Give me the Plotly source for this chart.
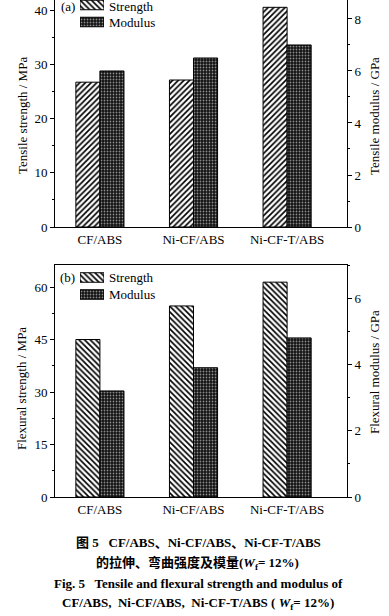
import plotly.graph_objects as go

categories = ["CF/ABS", "Ni-CF/ABS", "Ni-CF-T/ABS"]
tensile_strength = [26.7, 27.1, 40.5]    # MPa
tensile_modulus = [6.0, 6.5, 7.0]        # GPa
flexural_strength = [45.0, 54.6, 61.4]   # MPa
flexural_modulus = [3.2, 3.9, 4.8]       # GPa
legend_items = ["Modulus", "Strength"]
legend_len = [1, 1]

W, H = 389, 616
SERIF = "Liberation Serif, Times New Roman, serif"
CAP = "Liberation Serif, Noto Sans CJK SC, serif"

def px_x(p):
    return p / W

def px_y(p):
    return 1 - p / H

X0, X1 = 55, 347
TOP = (0, 227)
BOT = (265, 497)

bw = 0.257

def strength_style(shape):
    return dict(color="white", line=dict(color="black", width=1),
                pattern=dict(shape=shape, fgcolor="black", bgcolor="white",
                             size=4, solidity=0.42))

mod_style = dict(color="#111111", line=dict(color="black", width=1),
                 pattern=dict(shape=".", fgcolor="#8a8a8a", bgcolor="#111111",
                              size=3, solidity=0.3))

fig = go.Figure()
fig.add_bar(x=categories, y=tensile_strength, xaxis="x", yaxis="y",
            width=bw, offset=-bw, marker=strength_style("/"), showlegend=False)
fig.add_bar(x=categories, y=tensile_modulus, xaxis="x", yaxis="y2",
            width=bw, offset=0, marker=mod_style, showlegend=False)
fig.add_bar(x=categories, y=flexural_strength, xaxis="x2", yaxis="y3",
            width=bw, offset=-bw, marker=strength_style("\\"), showlegend=False)
fig.add_bar(x=categories, y=flexural_modulus, xaxis="x2", yaxis="y4",
            width=bw, offset=0, marker=mod_style, showlegend=False)

# legend patches (drawn on small helper axes)
for xa, ya in [("x3", "y5"), ("x4", "y6")]:
    for i, name in enumerate(legend_items):
        mk = mod_style if name == "Modulus" else strength_style("\\")
        fig.add_bar(x=[legend_len[i]], y=[name], orientation="h", xaxis=xa, yaxis=ya,
                    width=0.56, marker=mk, showlegend=False)

xrange = [-0.48, 2.64]
dom_x = [px_x(X0), px_x(X1)]

def yax(domain_px, rng, dtick, side="left", overlay=None, anchor="x"):
    d = dict(domain=[px_y(domain_px[1]), px_y(domain_px[0])], range=rng,
             dtick=dtick, ticks="outside", ticklen=4, tickwidth=1, tickcolor="black",
             minor=dict(dtick=dtick / 2, ticks="outside", ticklen=2, tickcolor="black"),
             showgrid=False, zeroline=False, showline=True, linecolor="black", linewidth=1,
             tickfont=dict(family=SERIF, size=13, color="black"), side=side, anchor=anchor,
             automargin=False)
    if overlay:
        d["overlaying"] = overlay
    return d

def xax(anchor, mirror=False):
    return dict(domain=dom_x, range=xrange, anchor=anchor, type="category",
                showline=True, linecolor="black", linewidth=1, mirror=mirror,
                ticks="", showgrid=False, zeroline=False, automargin=False,
                tickfont=dict(family=SERIF, size=13, color="black"))

def legend_axes(top_center, pitch=17.0):
    dom_top = max(0.0, top_center - pitch / 2)
    dom_bot = top_center + pitch * 1.5
    hi = 1 + (top_center - dom_top) / pitch
    lo = 1 - (dom_bot - top_center) / pitch
    ya = dict(domain=[px_y(dom_bot), px_y(dom_top)], range=[lo, hi], type="category",
              visible=False, fixedrange=True, automargin=False)
    xa = dict(domain=[px_x(80), px_x(104)], range=[0, 1], visible=False, fixedrange=True,
              automargin=False)
    return xa, ya

lx3, ly5 = legend_axes(5.0)
lx4, ly6 = legend_axes(277.5)
lx3["anchor"] = "y5"; ly5["anchor"] = "x3"
lx4["anchor"] = "y6"; ly6["anchor"] = "x4"

fig.update_layout(
    template="none",
    width=W, height=H, margin=dict(l=0, r=0, t=0, b=0, pad=0, autoexpand=False),
    paper_bgcolor="white", plot_bgcolor="rgba(0,0,0,0)",
    font=dict(family=SERIF, size=13, color="black"),
    barmode="overlay", showlegend=False,
    xaxis=xax("y"),
    yaxis=yax(TOP, [0, 41.85], 10),
    yaxis2=yax(TOP, [0, 8.73], 2, side="right", overlay="y"),
    xaxis2=xax("y3", mirror=True),
    yaxis3=yax(BOT, [0, 66.3], 15, anchor="x2"),
    yaxis4=yax(BOT, [0, 7.0], 2, side="right", overlay="y3", anchor="x2"),
    xaxis3=lx3, yaxis5=ly5, xaxis4=lx4, yaxis6=ly6,
)

def ann(text, x, y, size=13, angle=0, xanchor="center", family=SERIF):
    fig.add_annotation(text=text, x=px_x(x), y=px_y(y), xref="paper", yref="paper",
                       showarrow=False, textangle=angle, xanchor=xanchor, yanchor="middle",
                       font=dict(family=family, size=size, color="black"))

# panel labels and legend text
ann("(a)", 59, 7, xanchor="left")
ann("Strength", 107, 7, xanchor="left")
ann("Modulus", 107, 22.5, xanchor="left")
ann("(b)", 58, 277, xanchor="left")
ann("Strength", 107, 277.5, xanchor="left")
ann("Modulus", 107, 294.5, xanchor="left")

# axis titles
ann("Tensile strength / MPa", 22, 116, angle=-90)
ann("Tensile modulus / GPa", 374, 116, angle=-90)
ann("Flexural strength / MPa", 22, 389, angle=-90)
ann("Flexural modulus / GPa", 374, 372, angle=-90)

# caption
ann("<b>图 5   CF/ABS、Ni-CF/ABS、Ni-CF-T/ABS</b>", 198, 542, size=13, family=CAP)
ann("<b>的拉伸、弯曲强度及模量(<i>W</i><sub>f</sub>= 12%)</b>", 197, 563, size=13, family=CAP)
ann("<b>Fig. 5   Tensile and flexural strength and modulus of</b>", 198, 583, size=13, family=CAP)
ann("<b>CF/ABS,  Ni-CF/ABS,  Ni-CF-T/ABS ( <i>W</i><sub>f</sub>= 12%)</b>", 198, 603, size=13, family=CAP)

fig.write_html(
    "out.html",
    config={"displayModeBar": False},
    post_script="document.body.style.margin='0';document.body.style.overflow='hidden';"
                "document.documentElement.style.overflow='hidden';",
)
